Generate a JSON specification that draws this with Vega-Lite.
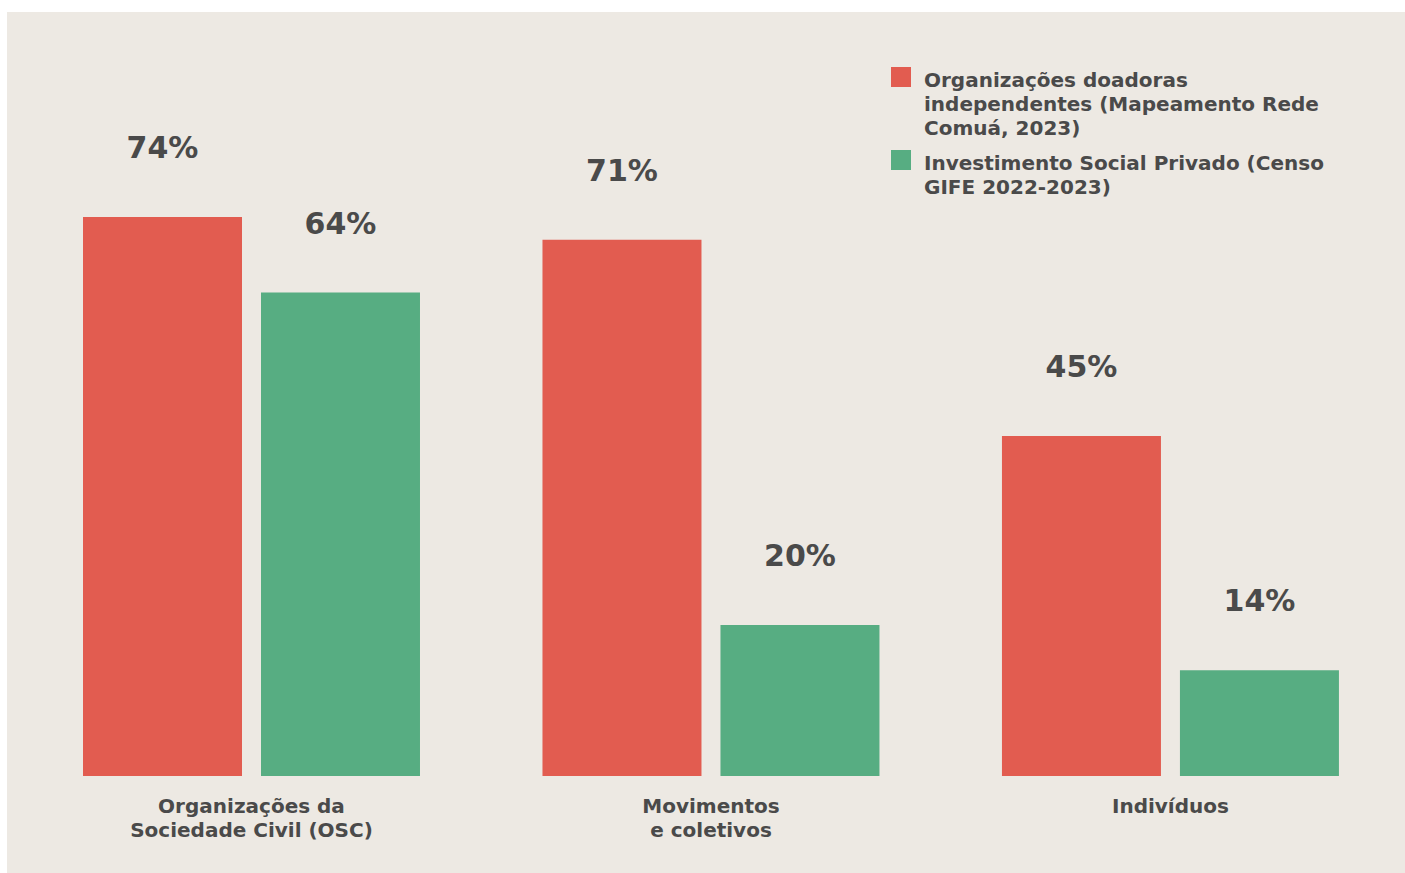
{
  "$schema": "https://vega.github.io/schema/vega-lite/v6.json",
  "width": 1405,
  "height": 873,
  "autosize": {"type": "fit", "contains": "padding"},
  "padding": {"left": 7, "top": 12, "right": 0, "bottom": 0},
  "background": "#ffffff",
  "config": {
    "view": {"fill": "#ede9e3", "stroke": null},
    "font": "DejaVu Sans",
    "style": {"guide-label": {"lineHeight": 24}}
  },
  "data": {
    "values": [
      {"grupo": "Organizações da Sociedade Civil (OSC)", "serie": "Organizações doadoras independentes (Mapeamento Rede Comuá, 2023)", "valor": 74, "rotulo": "74%"},
      {"grupo": "Organizações da Sociedade Civil (OSC)", "serie": "Investimento Social Privado (Censo GIFE 2022-2023)", "valor": 64, "rotulo": "64%"},
      {"grupo": "Movimentos e coletivos", "serie": "Organizações doadoras independentes (Mapeamento Rede Comuá, 2023)", "valor": 71, "rotulo": "71%"},
      {"grupo": "Movimentos e coletivos", "serie": "Investimento Social Privado (Censo GIFE 2022-2023)", "valor": 20, "rotulo": "20%"},
      {"grupo": "Indivíduos", "serie": "Organizações doadoras independentes (Mapeamento Rede Comuá, 2023)", "valor": 45, "rotulo": "45%"},
      {"grupo": "Indivíduos", "serie": "Investimento Social Privado (Censo GIFE 2022-2023)", "valor": 14, "rotulo": "14%"}
    ]
  },
  "encoding": {
    "x": {
      "field": "grupo",
      "type": "nominal",
      "sort": null,
      "scale": {"paddingInner": 0.2666, "paddingOuter": 0.1546, "align": 0.535},
      "axis": {
        "title": null,
        "orient": "bottom",
        "offset": -97,
        "domain": false,
        "ticks": false,
        "labelAngle": 0,
        "labelPadding": 20,
        "labelFontSize": 20,
        "labelFont": "DejaVu Sans",
        "labelFontWeight": "bold",
        "labelColor": "#4a4a4a",
        "labelLineHeight": 24,
        "labelLimit": 0,
        "labelExpr": "datum.value == 'Organizações da Sociedade Civil (OSC)' ? ['Organizações da', 'Sociedade Civil (OSC)'] : datum.value == 'Movimentos e coletivos' ? ['Movimentos', 'e coletivos'] : datum.value"
      }
    },
    "xOffset": {
      "field": "serie",
      "type": "nominal",
      "sort": null,
      "scale": {"paddingInner": 0.1067, "paddingOuter": 0}
    },
    "y": {
      "field": "valor",
      "type": "quantitative",
      "scale": {"domain": [-12.84, 101.14], "nice": false, "zero": false},
      "axis": null
    }
  },
  "layer": [
    {
      "mark": {"type": "bar"},
      "encoding": {
        "color": {
          "field": "serie",
          "type": "nominal",
          "sort": null,
          "scale": {
            "domain": ["Organizações doadoras independentes (Mapeamento Rede Comuá, 2023)", "Investimento Social Privado (Censo GIFE 2022-2023)"],
            "range": ["#e25c50", "#57ad82"]
          },
          "legend": {
            "title": null,
            "orient": "none",
            "legendX": 884,
            "legendY": 55,
            "symbolType": "square",
            "symbolSize": 400,
            "symbolStrokeWidth": 0,
            "labelFont": "DejaVu Sans",
            "labelFontSize": 20,
            "labelFontWeight": "bold",
            "labelColor": "#4a4a4a",
            "labelLimit": 0,
            "labelOffset": 13,
            "labelBaseline": "top",
            "rowPadding": 11,
            "encode": {"labels": {"update": {"dy": {"value": -6}, "lineHeight": {"value": 24}}}},
            "labelExpr": "datum.label == 'Organizações doadoras independentes (Mapeamento Rede Comuá, 2023)' ? ['Organizações doadoras', 'independentes (Mapeamento Rede', 'Comuá, 2023)'] : ['Investimento Social Privado (Censo', 'GIFE 2022-2023)']"
          }
        }
      }
    },
    {
      "mark": {
        "type": "text",
        "baseline": "alphabetic",
        "align": "center",
        "dy": -59,
        "fontSize": 30,
        "fontWeight": "bold",
        "font": "DejaVu Sans",
        "color": "#4a4a4a"
      },
      "encoding": {
        "text": {"field": "rotulo", "type": "nominal"},
        "detail": {"field": "serie"}
      }
    }
  ]
}
